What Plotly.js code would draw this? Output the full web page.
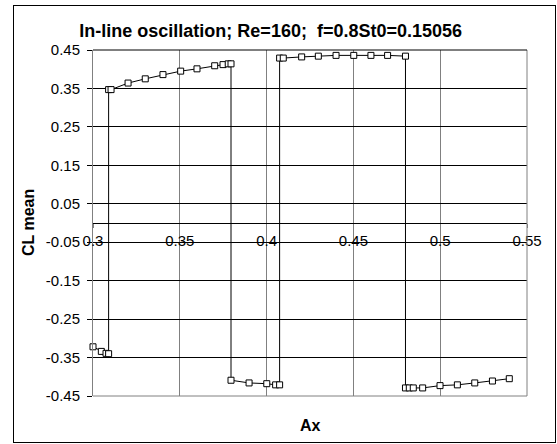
<!DOCTYPE html>
<html>
<head>
<meta charset="utf-8">
<script src="https://cdn.plot.ly/plotly-3.0.1.min.js"></script>
<style>
html,body{margin:0;padding:0;background:#fff;}
#wrap{position:relative;width:557px;height:444px;overflow:hidden;}
#chart{position:absolute;left:0;top:0;width:557px;height:444px;}
#frame{position:absolute;left:13px;top:5px;width:543px;height:438px;border:1px solid #000;box-sizing:border-box;pointer-events:none;}
</style>
</head>
<body>
<div id="wrap"><div id="chart"></div><div id="frame"></div></div>
<script>
// Data
const ax = [0.300, 0.3048, 0.3075, 0.309,
            0.309, 0.3104, 0.3202, 0.3301, 0.3403, 0.3505, 0.3599, 0.3701, 0.3749, 0.3779, 0.3795,
            0.3795, 0.3899, 0.4001, 0.4052, 0.4075,
            0.4075, 0.4096, 0.4202, 0.4298, 0.4400, 0.4502, 0.4601, 0.4697, 0.4800,
            0.4800, 0.4822, 0.4845, 0.4899, 0.4999, 0.5099, 0.5199, 0.5301, 0.5398];
const clMean = [-0.322, -0.334, -0.339, -0.340,
                0.347, 0.347, 0.364, 0.375, 0.386, 0.395, 0.401, 0.409, 0.412, 0.414, 0.414,
                -0.409, -0.416, -0.418, -0.421, -0.421,
                0.429, 0.429, 0.432, 0.434, 0.436, 0.436, 0.436, 0.436, 0.434,
                -0.429, -0.429, -0.429, -0.429, -0.423, -0.421, -0.416, -0.411, -0.405];
const xTicks = [0.3, 0.35, 0.4, 0.45, 0.5, 0.55];
const xTickText = ['0.3', '0.35', '0.4', '0.45', '0.5', '0.55'];
const yTicks = [0.45, 0.35, 0.25, 0.15, 0.05, -0.05, -0.15, -0.25, -0.35, -0.45];
const yTickText = ['0.45', '0.35', '0.25', '0.15', '0.05', '-0.05', '-0.15', '-0.25', '-0.35', '-0.45'];
const titleText = 'In-line oscillation; Re=160;  f=0.8St0=0.15056';
const xTitle = 'Ax';
const yTitle = 'CL mean';

const FONT = 'Liberation Sans, Arial, sans-serif';

const trace = {
  x: ax, y: clMean, type: 'scatter', mode: 'lines+markers',
  line: {color: '#000', width: 1},
  marker: {symbol: 'square', size: 6, color: '#fff', line: {color: '#000', width: 1}},
  cliponaxis: false, hoverinfo: 'x+y'
};

const layout = {
  width: 557, height: 444,
  margin: {l: 93, r: 30, t: 50, b: 48, pad: 0},
  paper_bgcolor: '#fff', plot_bgcolor: '#fff',
  font: {family: FONT, size: 15, color: '#000'},
  showlegend: false,
  title: {text: '<b>' + titleText + '</b>', font: {family: FONT, size: 18, color: '#000'},
          xref: 'container', yref: 'container', x: 0.486, xanchor: 'center', y: 1 - 31/444, yanchor: 'middle'},
  xaxis: {
    range: [0.3, 0.55], tickmode: 'array', tickvals: xTicks, ticktext: xTickText,
    anchor: 'free', position: 0.5,
    showgrid: true, gridcolor: '#808080', gridwidth: 1,
    showline: true, linecolor: '#000', linewidth: 1,
    ticks: 'outside', ticklen: 4, tickcolor: '#808080',
    zeroline: false, tickfont: {family: FONT, size: 15, color: '#000'}
  },
  yaxis: {
    range: [-0.45, 0.45], tickmode: 'array', tickvals: yTicks, ticktext: yTickText,
    showgrid: true, gridcolor: '#000', gridwidth: 1,
    zeroline: true, zerolinecolor: '#000', zerolinewidth: 1,
    showline: true, linecolor: '#808080', linewidth: 1,
    ticks: 'outside', ticklen: 5, tickcolor: '#000',
    ticklabelstandoff: 4,
    tickfont: {family: FONT, size: 15, color: '#000'}
  },
  shapes: [
    {type: 'line', xref: 'paper', yref: 'paper', x0: 1, x1: 1, y0: 0, y1: 1, line: {color: '#808080', width: 1}},
    {type: 'line', xref: 'paper', yref: 'paper', x0: 0, x1: 1, y0: 1, y1: 1, line: {color: '#000', width: 1}},
    {type: 'line', xref: 'paper', yref: 'paper', x0: 0, x1: 1, y0: 0, y1: 0, line: {color: '#808080', width: 1}}
  ],
  annotations: [
    {text: '<b>' + xTitle + '</b>', xref: 'paper', yref: 'paper', x: 0.5, y: (396 - 425) / 346,
     xanchor: 'center', yanchor: 'middle', showarrow: false, font: {family: FONT, size: 16, color: '#000'}},
    {text: '<b>' + yTitle + '</b>', xref: 'paper', yref: 'paper', x: (28 - 93) / 434, y: 0.5,
     xanchor: 'center', yanchor: 'middle', textangle: -90, showarrow: false, font: {family: FONT, size: 16, color: '#000'}}
  ]
};

Plotly.newPlot('chart', [trace], layout, {displayModeBar: false, staticPlot: true});
</script>
</body>
</html>
